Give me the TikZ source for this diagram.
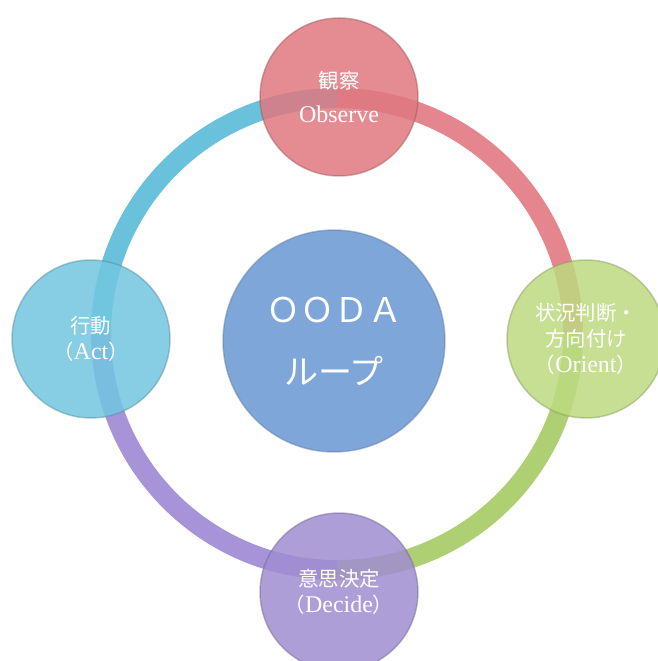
\documentclass[tikz,border=0pt]{standalone}
\usepackage{fontspec}
\setmainfont{Liberation Serif}
\newfontfamily\jp[Scale=0.85]{Noto Sans CJK JP}
\definecolor{loopblue}{HTML}{7FA6D9}
\definecolor{obsred}{HTML}{E07880}
\definecolor{orientgreen}{HTML}{BDDA80}
\definecolor{decidepurple}{HTML}{A08ED2}
\definecolor{actcyan}{HTML}{72C6E0}
\definecolor{ringred}{HTML}{E37C85}
\definecolor{ringgreen}{HTML}{A8CD68}
\definecolor{ringpurple}{HTML}{A08BD5}
\definecolor{ringcyan}{HTML}{5DBCDA}
\begin{document}
\begin{tikzpicture}[
  x=1pt, y=1pt,
  ball/.style = {circle, minimum size=#1, inner sep=0pt, align=center,
    text=white, fill opacity=0.85, text opacity=1,
    line width=1.5pt, draw opacity=0.45},
  small/.style = {ball=158pt, font=\fontsize{24}{26}\selectfont},
  band/.style = {line width=20pt, draw opacity=0.92},
]
  \fill[white] (0,0) rectangle (657,661);
  \useasboundingbox (0,0) rectangle (657,661);
  \coordinate (ring) at (337,327);
  % the loop
  \draw[band, draw=ringred] ([shift={(90:236)}]ring) arc[start angle=90, end angle=0, radius=236];
  \draw[band, draw=ringgreen] ([shift={(0:236)}]ring) arc[start angle=0, end angle=-90, radius=236];
  \draw[band, draw=ringpurple] ([shift={(270:236)}]ring) arc[start angle=270, end angle=180, radius=236];
  \draw[band, draw=ringcyan] ([shift={(180:236)}]ring) arc[start angle=180, end angle=90, radius=236];
  % the steps
  \node[ball=222pt, fill=loopblue, fill opacity=1, draw=loopblue!75!black,
    font=\jp\fontsize{40}{62}\selectfont] (ooda) at (334,320) {ＯＯＤＡ\\ループ};
  \node[small, fill=obsred, draw=obsred!70!black] (observe) at (339,564)
    {{\jp 観察}\\[8pt]Observe};
  \node[small, fill=orientgreen, draw=orientgreen!70!black] (orient) at (586,322)
    {{\jp 状況判断・}\\{\jp 方向付け}\\{\jp （}Orient{\jp ）}};
  \node[small, fill=decidepurple, draw=decidepurple!70!black] (decide) at (339,69)
    {{\jp 意思決定}\\{\jp （}Decide{\jp ）}};
  \node[small, fill=actcyan, draw=actcyan!70!black] (act) at (91,322)
    {{\jp 行動}\\{\jp （}Act{\jp ）}};
\end{tikzpicture}
\end{document}
